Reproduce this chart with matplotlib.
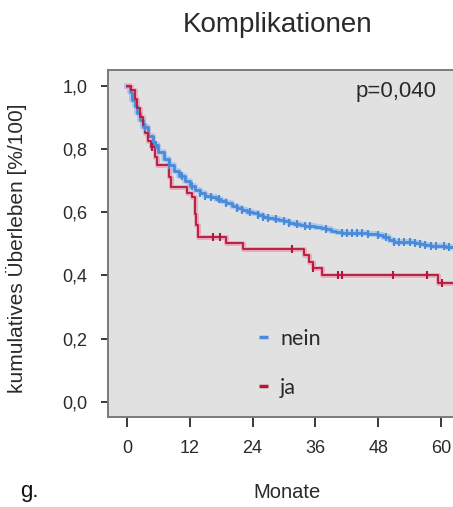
import numpy as np
import matplotlib
matplotlib.use("Agg")
from matplotlib import pyplot as plt
from matplotlib.lines import Line2D

plt.rcParams["font.family"] = ["Liberation Sans", "DejaVu Sans"]

# Kaplan-Meier curves (months, survival)
nein_t = [0, 0.5, 1, 1.5, 2, 2.5, 3, 4, 5, 6, 7, 8, 9, 10, 11, 12, 13, 14, 15, 16,
          17, 18, 19, 20, 21, 22, 23, 24, 25, 26, 27, 28, 29, 30, 31, 32, 33, 34,
          35, 36, 37, 38, 39, 40, 41, 46, 48, 49, 50, 51, 55, 56, 57, 58, 60, 61, 62]
nein_s = [1.0, 0.98, 0.955, 0.935, 0.915, 0.893, 0.87, 0.84, 0.812, 0.79, 0.767,
          0.748, 0.73, 0.713, 0.697, 0.682, 0.669, 0.659, 0.652, 0.647, 0.642,
          0.635, 0.628, 0.62, 0.613, 0.606, 0.601, 0.597, 0.591, 0.586, 0.581,
          0.578, 0.575, 0.572, 0.567, 0.563, 0.56, 0.557, 0.555, 0.553, 0.55,
          0.545, 0.54, 0.537, 0.534, 0.53, 0.527, 0.52, 0.512, 0.506, 0.503,
          0.498, 0.496, 0.494, 0.492, 0.49, 0.488]
nein_cens = [3.5, 5.5, 8, 10.5, 12.5, 14, 15, 16, 17.5, 19, 21, 22, 23.5, 25, 26,
             27, 28.5, 30, 31, 32.5, 34, 35, 38, 41, 42, 43, 44, 45, 46, 48, 49.5,
             51, 52, 53, 54, 55, 56, 57, 58, 59, 60.5, 61.5]

ja_t = [0, 0.8, 1.5, 2.0, 2.5, 3.0, 3.5, 4.0, 4.5, 5.4, 5.8, 8.0, 8.5, 11.5,
        12.5, 12.9, 13.2, 13.6, 19.0, 22.2, 33.8, 34.8, 35.6, 37.2, 59.5]
ja_s = [1.0, 0.986, 0.958, 0.93, 0.9, 0.875, 0.85, 0.825, 0.805, 0.775, 0.75,
        0.712, 0.678, 0.661, 0.649, 0.595, 0.559, 0.522, 0.503, 0.482, 0.464,
        0.443, 0.422, 0.401, 0.375]
ja_cens = [4.7, 16.5, 17.8, 31.5, 35.6, 40.4, 41.0, 50.9, 57.3, 60.1]

x_ticks = [0, 12, 24, 36, 48, 60]
y_ticks = [0.0, 0.2, 0.4, 0.6, 0.8, 1.0]
y_ticklabels = ["0,0", "0,2", "0,4", "0,6", "0,8", "1,0"]

t_end = 63.5
col_nein = "#4a8ad8"
col_nein_halo = "#a9c9ef"
col_ja = "#b4163e"
col_ja_halo = "#eaa6b6"
text_col = "#2a2a2a"


def step_value(times, surv, t):
    idx = np.searchsorted(times, t, side="right") - 1
    return np.asarray(surv)[idx]


fig = plt.figure(figsize=(4.53, 5.07), dpi=100)
ax = fig.add_axes([108 / 453, 1 - 417 / 507, 350 / 453, 347 / 507])
ax.set_facecolor("#e1e1e1")

for times, surv, cens, col, halo, lw in [
    (nein_t, nein_s, nein_cens, col_nein, col_nein_halo, 2.0),
    (ja_t, ja_s, ja_cens, col_ja, col_ja_halo, 1.3),
]:
    tt = list(times) + [t_end]
    ss = list(surv) + [surv[-1]]
    ax.step(tt, ss, where="post", color=halo, lw=lw + 2.2, zorder=2)
    ax.step(tt, ss, where="post", color=col, lw=lw, zorder=3)
    cy = step_value(times, surv, cens)
    ax.plot(cens, cy, ls="none", marker="|", ms=6, mew=1.5, color=col, zorder=4)

ax.set_xlim(-3.63, 63.25)
ax.set_ylim(-0.0484, 1.0497)
ax.set_xticks(x_ticks)
ax.set_xticklabels([str(v) for v in x_ticks])
ax.set_yticks(y_ticks)
ax.set_yticklabels(y_ticklabels)

for side in ["left", "bottom", "top"]:
    ax.spines[side].set_color("#7a7a7a")
    ax.spines[side].set_linewidth(1.4)
ax.spines["right"].set_visible(False)

ax.tick_params(axis="y", direction="out", length=5, width=1.3, pad=10,
               labelsize=13, colors=text_col)
ax.tick_params(axis="x", direction="out", length=7.5, width=1.3, pad=9,
               labelsize=13, colors=text_col)

ax.set_ylabel("kumulatives Überleben [%/100]", fontsize=15, color=text_col)
ax.yaxis.set_label_coords(-0.231, 0.487)
ax.set_xlabel("Monate", fontsize=14.5, color=text_col)
ax.xaxis.set_label_coords(0.511, -0.19)

ax.text(0.706, 0.937, "p=0,040", transform=ax.transAxes, fontsize=16,
        va="center", ha="left", color=text_col)

handles = [Line2D([], [], color=col_nein, lw=2.5, solid_capstyle="butt"),
           Line2D([], [], color=col_ja, lw=2.5, solid_capstyle="butt")]
leg = ax.legend(handles, ["nein", "ja"], loc="upper left",
                bbox_to_anchor=(0.375, 0.31), frameon=False,
                handlelength=0.45, handletextpad=0.55, labelspacing=1.35,
                prop={"family": ["Lato", "DejaVu Sans"], "size": 15.5})
for txt in leg.get_texts():
    txt.set_color(text_col)

fig.text(278 / 453, 1 - 25 / 507, "Komplikationen", fontsize=20,
         ha="center", va="center", color=text_col)
fig.text(20 / 453, 1 - 492 / 507, "g.", fontsize=16, ha="left", va="center",
         color="#111111")

fig.savefig("out.png", dpi=100)
